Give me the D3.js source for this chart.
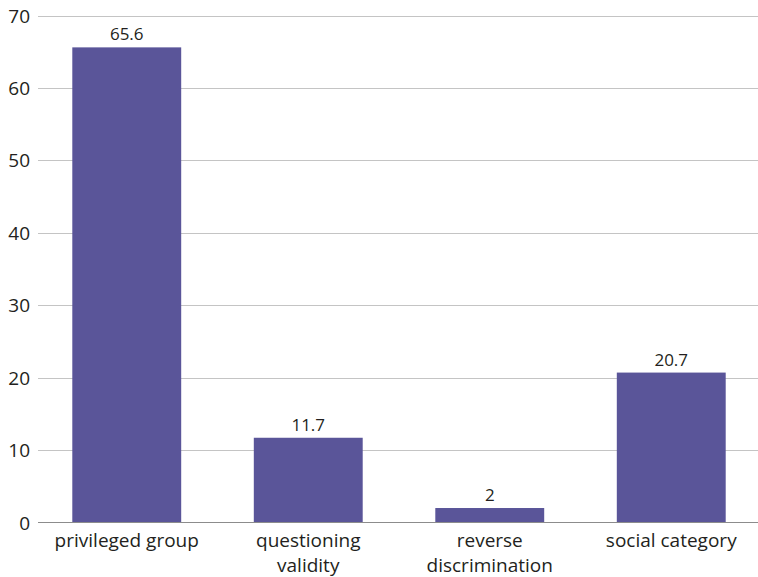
<!DOCTYPE html>
<html><head><meta charset="utf-8">
<script src="https://cdn.jsdelivr.net/npm/d3@7"></script>
<style>body{margin:0;background:#fff}svg{display:block}text{font-family:"Open Sans",sans-serif;fill:#231f20}</style>
</head><body>
<svg id="c" width="758" height="577"></svg>
<script>
const categories = [["privileged group"], ["questioning", "validity"], ["reverse", "discrimination"], ["social category"]];
const values = [65.6, 11.7, 2, 20.7];
const valueLabels = ["65.6", "11.7", "2", "20.7"];
const yTicks = [0, 10, 20, 30, 40, 50, 60, 70];

const svg = d3.select("#c");
const x = d3.scaleBand().domain(d3.range(categories.length)).range([36, 762]).paddingInner(0.4).paddingOuter(0.2);
const y = d3.scaleLinear().domain([0, 70]).range([522.5, 15.5]);

svg.append("g").selectAll("line").data(yTicks.filter(d => d > 0)).join("line")
  .attr("x1", 38).attr("x2", 758).attr("y1", d => Math.round(y(d)) + 0.5).attr("y2", d => Math.round(y(d)) + 0.5)
  .attr("stroke", "#c4c4c4").attr("stroke-width", 1);

svg.append("g").selectAll("text").data(yTicks).join("text")
  .attr("x", 30).attr("y", d => y(d) + 7).attr("text-anchor", "end")
  .attr("font-size", 19).text(d => d);

svg.append("g").selectAll("rect").data(values).join("rect")
  .attr("x", (d, i) => x(i)).attr("width", x.bandwidth())
  .attr("y", d => y(d)).attr("height", d => y(0) - y(d)).attr("fill", "#5a5599");

svg.append("line").attr("x1", 38).attr("x2", 758).attr("y1", y(0)).attr("y2", y(0))
  .attr("stroke", "#8c8c8c").attr("stroke-width", 1);

svg.append("g").selectAll("text").data(values).join("text")
  .attr("x", (d, i) => x(i) + x.bandwidth() / 2).attr("y", d => y(d) - 7)
  .attr("text-anchor", "middle").attr("font-size", 17).text((d, i) => valueLabels[i]);

const cat = svg.append("g").selectAll("text").data(categories).join("text")
  .attr("x", (d, i) => x(i) + x.bandwidth() / 2).attr("y", 547)
  .attr("text-anchor", "middle").attr("font-size", 19);
cat.selectAll("tspan").data(d => d).join("tspan")
  .attr("x", function() { return this.parentNode.getAttribute("x"); })
  .attr("dy", (d, j) => j === 0 ? 0 : 25).text(d => d);
</script>
</body></html>
